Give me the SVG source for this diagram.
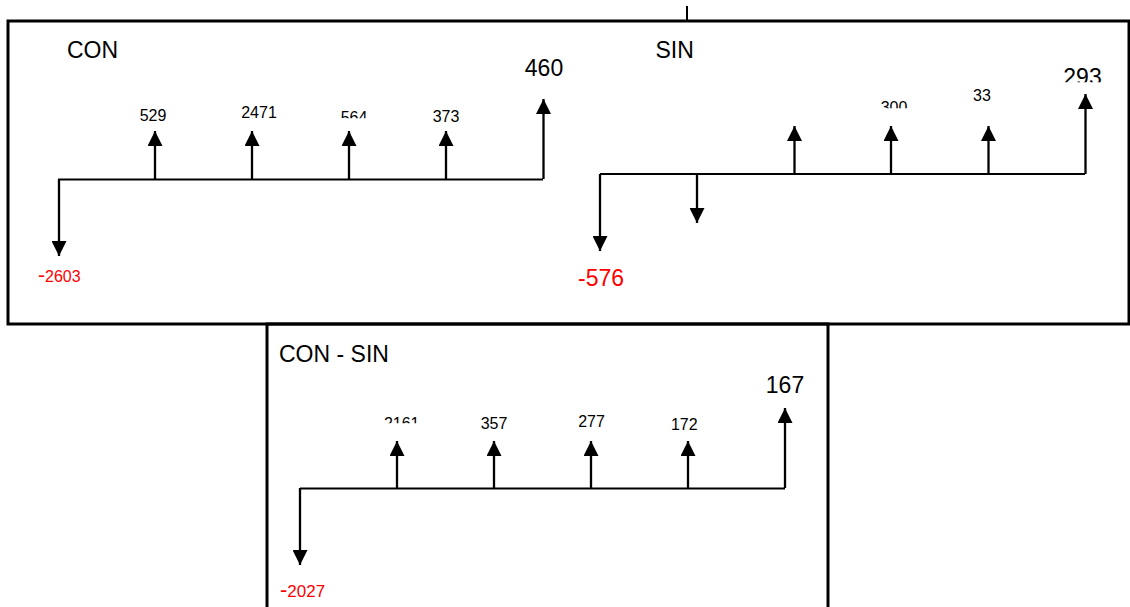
<svg xmlns="http://www.w3.org/2000/svg" width="1130" height="607" viewBox="0 0 1130 607">
<style>
.box{fill:none;stroke:#000;stroke-width:3}
.ln{stroke:#000;stroke-width:2;fill:none}
.ar{stroke:#000;stroke-width:2.3;fill:none;marker-end:url(#ah)}
.t{font-family:"Liberation Sans",Arial,sans-serif;fill:#000}
.title{font-size:23px}
.big{font-size:23px}
.sm{font-size:16px}
.red{fill:#ff0000}
</style>
<defs>
<marker id="ah" viewBox="0 0 15 15" refX="15" refY="7.5" markerWidth="15" markerHeight="15" markerUnits="userSpaceOnUse" orient="auto">
<path d="M0,0 L15,7.5 L0,15 z" fill="#000"/>
</marker>
<clipPath id="c564"><rect x="330" y="100" width="50" height="18.3"/></clipPath>
<clipPath id="c300"><rect x="870" y="90" width="50" height="18.3"/></clipPath>
<clipPath id="c293"><rect x="1055" y="60" width="60" height="22.3"/></clipPath>
<clipPath id="c2161"><rect x="375" y="405" width="55" height="18.3"/></clipPath>
</defs>
<rect width="1130" height="607" fill="#fff"/>
<g id="frames">
<rect class="box" x="8" y="21" width="1121" height="303"/>
<path class="box" d="M267,607 V324 H828 V607"/>
<line class="ln" x1="687" y1="6" x2="687" y2="21"/>
</g>
<g id="connectors">
<line class="ln" x1="58" y1="179.5" x2="543" y2="179.5"/>
<line class="ar" x1="59" y1="179" x2="59" y2="256"/>
<line class="ar" x1="155" y1="179" x2="155" y2="131"/>
<line class="ar" x1="252" y1="179" x2="252" y2="131"/>
<line class="ar" x1="349" y1="179" x2="349" y2="131"/>
<line class="ar" x1="446" y1="179" x2="446" y2="131"/>
<line class="ar" x1="543.5" y1="179" x2="543.5" y2="99"/>

<line class="ln" x1="600" y1="174" x2="1085" y2="174"/>
<line class="ar" x1="600" y1="174" x2="600" y2="251"/>
<line class="ar" x1="697" y1="175" x2="697" y2="223"/>
<line class="ar" x1="794.5" y1="174" x2="794.5" y2="126"/>
<line class="ar" x1="891" y1="174" x2="891" y2="126"/>
<line class="ar" x1="988.5" y1="174" x2="988.5" y2="126"/>
<line class="ar" x1="1085.5" y1="174" x2="1085.5" y2="94"/>

<line class="ln" x1="300" y1="488.5" x2="785" y2="488.5"/>
<line class="ar" x1="300" y1="488" x2="300" y2="565"/>
<line class="ar" x1="397" y1="488" x2="397" y2="441"/>
<line class="ar" x1="494" y1="488" x2="494" y2="441"/>
<line class="ar" x1="591" y1="488" x2="591" y2="441"/>
<line class="ar" x1="688" y1="488" x2="688" y2="441"/>
<line class="ar" x1="785" y1="488" x2="785" y2="408"/>
</g>
<g id="con">
<text class="t title" x="67" y="58">CON</text>
<text class="t sm" x="153" y="120.5" text-anchor="middle">529</text>
<text class="t sm" x="259" y="118.3" text-anchor="middle">2471</text>
<text class="t sm" x="354" y="122.8" text-anchor="middle" clip-path="url(#c564)">564</text>
<text class="t sm" x="446" y="122" text-anchor="middle">373</text>
<text class="t big" x="544" y="76" text-anchor="middle">460</text>
<text class="t red" x="38" y="281.7"><tspan font-size="21px">-</tspan><tspan font-size="16px">2603</tspan></text>
</g>
<g id="sin">
<text class="t title" x="655.5" y="58">SIN</text>
<text class="t sm" x="894" y="113.2" text-anchor="middle" clip-path="url(#c300)">300</text>
<text class="t sm" x="982" y="100.7" text-anchor="middle">33</text>
<text class="t big" x="1082.5" y="85" text-anchor="middle" clip-path="url(#c293)">293</text>
<text class="t big red" x="578" y="286">-576</text>
</g>
<g id="con-sin">
<text class="t title" x="279" y="361.7">CON - SIN</text>
<text class="t sm" x="401.7" y="428.8" text-anchor="middle" clip-path="url(#c2161)">2161</text>
<text class="t sm" x="494" y="429.3" text-anchor="middle">357</text>
<text class="t sm" x="591.5" y="426.7" text-anchor="middle">277</text>
<text class="t sm" x="684.3" y="430" text-anchor="middle">172</text>
<text class="t big" x="785" y="392.7" text-anchor="middle">167</text>
<text class="t red" x="280" y="597.3"><tspan font-size="22px">-</tspan><tspan font-size="17px">2027</tspan></text>
</g>
</svg>
